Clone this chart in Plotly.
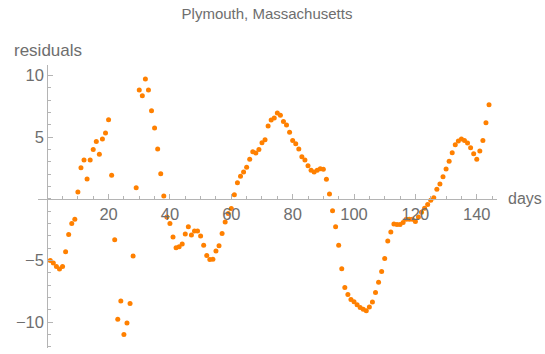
import plotly.graph_objects as go

days = list(range(1, 145))
residuals = [
    -5.0, -5.2, -5.49, -5.7, -5.49, -4.3, -2.89, -2.0, -1.67, 0.54,
    2.52, 3.14, 1.6, 3.14, 4.0, 4.63, 3.6, 4.84, 5.33, 6.4,
    1.9, -3.32, -9.76, -8.3, -11.0, -10.08, -8.5, -4.65, 0.9, 8.82,
    8.35, 9.71, 8.82, 7.14, 5.73, 4.03, 2.03, 0.22, -1.48, -2.0,
    -3.1, -3.97, -3.89, -3.67, -2.86, -2.27, -2.94, -2.62, -2.62, -3.03,
    -3.78, -4.6, -4.92, -4.9, -4.24, -3.81, -2.81, -1.89, -1.19, -0.8,
    0.33, 1.3, 1.82, 2.17, 2.55, 3.19, 3.81, 3.71, 4.0, 4.54,
    4.79, 5.9, 6.38, 6.55, 6.95, 6.76, 6.25, 5.98, 5.38, 4.73,
    4.46, 4.03, 3.41, 3.14, 2.68, 2.3, 2.17, 2.3, 2.44, 2.38,
    1.57, 0.38, -0.97, -2.27, -3.78, -5.67, -7.19, -7.76, -8.16, -8.35,
    -8.59, -8.81, -8.95, -9.08, -8.78, -8.38, -7.6, -6.78, -5.89, -4.84,
    -3.43, -2.7, -2.05, -2.08, -2.08, -1.92, -1.67, -1.67, -1.67, -1.84,
    -1.48, -1.1, -0.78, -0.46, -0.13, 0.08, 0.76, 1.19, 1.78, 2.41,
    3.03, 3.73, 4.38, 4.68, 4.84, 4.73, 4.52, 4.14, 3.65, 3.19,
    3.87, 4.73, 6.16, 7.62,
]
x_ticks = [20, 40, 60, 80, 100, 120, 140]
y_ticks = [-10, -5, 5, 10]

title_text = "Plymouth, Massachusetts"
y_label = "residuals"
x_label = "days"

x_range = [-3.0, 146.6]
y_range = [-12.1, 10.84]

axis_color = "#b4b4b4"
text_color = "#6e6e6e"
font_family = "Liberation Sans, Arial, sans-serif"

fig = go.Figure(
    go.Scatter(
        x=days, y=residuals, mode="markers",
        marker=dict(color="#ff8000", size=5, line=dict(width=0)),
        cliponaxis=False, showlegend=False,
    )
)

x_pos = (0 - y_range[0]) / (y_range[1] - y_range[0])
y_pos = (0 - x_range[0]) / (x_range[1] - x_range[0])

fig.update_layout(
    width=545, height=354, autosize=False,
    margin=dict(l=38, r=48, t=65, b=6, pad=0),
    paper_bgcolor="white", plot_bgcolor="white",
    font=dict(family=font_family, color=text_color),
    title=dict(text=title_text, xref="container", x=267 / 545, xanchor="center",
               yref="container", y=1 - 14 / 354, yanchor="middle",
               font=dict(size=15, color=text_color)),
    xaxis=dict(
        range=x_range, anchor="free", position=x_pos,
        showline=True, linecolor=axis_color, linewidth=1,
        showgrid=False, zeroline=False,
        tickmode="array", tickvals=x_ticks, ticks="inside", ticklen=5,
        tickcolor=axis_color, tickwidth=1,
        minor=dict(tickmode="linear", tick0=0, dtick=5, ticks="inside",
                   ticklen=3, tickcolor=axis_color, showgrid=False),
        tickfont=dict(size=16.5, color=text_color),
    ),
    yaxis=dict(
        range=y_range, anchor="free", position=y_pos,
        showline=True, linecolor=axis_color, linewidth=1,
        showgrid=False, zeroline=False,
        tickmode="array", tickvals=y_ticks, ticks="inside", ticklen=5,
        tickcolor=axis_color, tickwidth=1,
        minor=dict(tickmode="linear", tick0=0, dtick=1, ticks="inside",
                   ticklen=3, tickcolor=axis_color, showgrid=False),
        tickfont=dict(size=16.5, color=text_color),
    ),
    annotations=[
        dict(text=y_label, xref="paper", x=(12 - 38) / 459, xanchor="left",
             yref="paper", y=(348 - 50) / 283, yanchor="middle",
             showarrow=False, font=dict(size=17, color=text_color)),
        dict(text=x_label, xref="paper", x=(506 - 38) / 459, xanchor="left",
             yref="y", y=0, yanchor="middle",
             showarrow=False, font=dict(size=16, color=text_color)),
    ],
)

fig.write_html("out.html", config={"displayModeBar": False},
               post_script="document.body.style.margin='0';")
